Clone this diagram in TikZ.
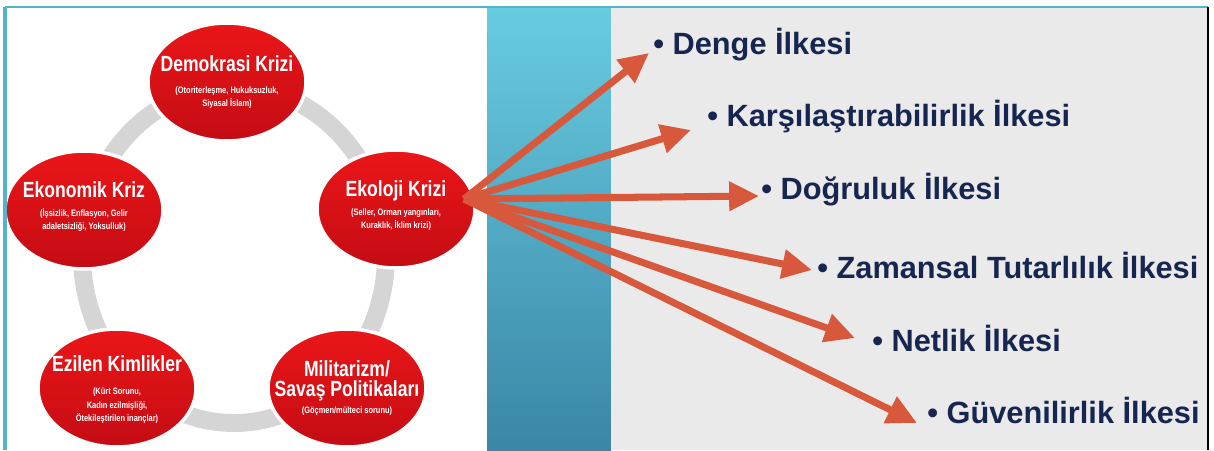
\documentclass[tikz,border=0pt]{standalone}
\usepackage{fontspec}
\setmainfont{Liberation Sans}
\newfontfamily\condfont[FakeStretch=0.8]{Liberation Sans}
\usetikzlibrary{shapes.geometric, arrows.meta}

\definecolor{crisisred}{RGB}{234,22,24}
\definecolor{crisisdark}{RGB}{196,12,20}
\definecolor{ringgray}{RGB}{213,213,213}
\definecolor{stripetop}{RGB}{104,204,224}
\definecolor{stripebot}{RGB}{58,134,166}
\definecolor{panelgray}{RGB}{234,234,234}
\definecolor{framecyan}{RGB}{80,180,205}
\definecolor{principle}{RGB}{22,38,80}
\definecolor{fanorange}{RGB}{216,88,60}

\tikzset{
	crisis/.style={ellipse, top color=crisisred, bottom color=crisisdark, draw=white, line width=2pt,
		minimum width=3.16cm, minimum height=2.36cm, inner sep=0pt},
	crisistext/.style={inner sep=0pt, text=white, align=center,
		font=\condfont\bfseries\fontsize{12.5}{14}\selectfont},
	principle/.style={anchor=west, inner sep=0pt, text=principle, font=\bfseries\fontsize{17.5}{20}\selectfont},
	fan/.style={draw=fanorange, line width=4pt, -{Triangle[length=17pt, width=16pt]}}
}
\newcommand{\sub}[1]{{\fontsize{5.3}{7.4}\selectfont #1}}

\begin{document}
\begin{tikzpicture}[x=0.02cm, y=-0.02cm]
	\useasboundingbox (0,0) rectangle (1214,450);
	\fill[white] (0,0) rectangle (1214,450);

	% panels
	\shade[top color=stripetop, bottom color=stripebot] (487,7) rectangle (611,450);
	\fill[panelgray] (611,7) rectangle (1208,450);

	% ring behind the crises
	\draw[ringgray, line width=10.2pt] (234,255) ellipse [x radius=152, y radius=168];

	\node[crisis] (demo) at (227,82) {};
	\node[crisis] (ekon) at (84,210) {};
	\node[crisis] (ekol) at (396,209) {};
	\node[crisis] (ezil) at (117,388) {};
	\node[crisis] (mili) at (347,388) {};

	\node[crisistext] (demoText) at (demo) {Demokrasi Krizi\\[-1.5pt]\sub{(Otoriterleşme, Hukuksuzluk,}\\[-6.6pt]\sub{Siyasal İslam)}};
	\node[crisistext] (ekonText) at ([yshift=2pt]ekon) {Ekonomik Kriz\\[-3.2pt]\sub{(İşsizlik, Enflasyon, Gelir}\\[-6.6pt]\sub{adaletsizliği, Yoksulluk)}};
	\node[crisistext] (ekolText) at ([yshift=2pt]ekol) {Ekoloji Krizi\\[-3.2pt]\sub{(Seller, Orman yangınları,}\\[-6.6pt]\sub{Kuraklık, İklim krizi)}};
	\node[crisistext] (ezilText) at ([yshift=-1pt]ezil) {Ezilen Kimlikler\\[-1pt]\sub{(Kürt Sorunu,}\\[-6.4pt]\sub{Kadın ezilmişliği,}\\[-6.4pt]\sub{Ötekileştirilen inançlar)}};
	\node[crisistext] (miliText) at (mili) {Militarizm/\\[-2.7pt]Savaş Politikaları\\[-4.4pt]\sub{(Göçmen/mülteci sorunu)}};

	% principles
	\node[principle] (denge) at (653,45) {• Denge İlkesi};
	\node[principle] (karsi) at (707,117) {• Karşılaştırabilirlik İlkesi};
	\node[principle] (dogru) at (761,190) {• Doğruluk İlkesi};
	\node[principle] (zaman) at (817,265) {• Zamansal Tutarlılık İlkesi};
	\node[principle] (netlik) at (872,338) {• Netlik İlkesi};
	\node[principle] (guven) at (927,410) {• Güvenilirlik İlkesi};

	\coordinate (fan) at (464,199);
	\draw[fan] (fan) -- ([shift={(-4,8)}]denge.west);
	\draw[fan] (fan) -- ([shift={(-16,13)}]karsi.west);
	\draw[fan] (fan) -- ([shift={(-2,6)}]dogru.west);
	\draw[fan] (fan) -- ([shift={(-5,5)}]zaman.west);
	\draw[fan] (fan) -- ([shift={(-17,0)}]netlik.west);
	\draw[fan] (fan) -- ([shift={(-10,13)}]guven.west);

	% frame
	\fill[white] (0,0) rectangle (5,450);
	\draw[framecyan, line width=1pt] (5,7) -- (1208,7);
	\draw[framecyan, line width=2pt] (5,7) -- (5,450);
	\draw[black, line width=1pt] (1208,7) -- (1208,450);
\end{tikzpicture}
\end{document}
